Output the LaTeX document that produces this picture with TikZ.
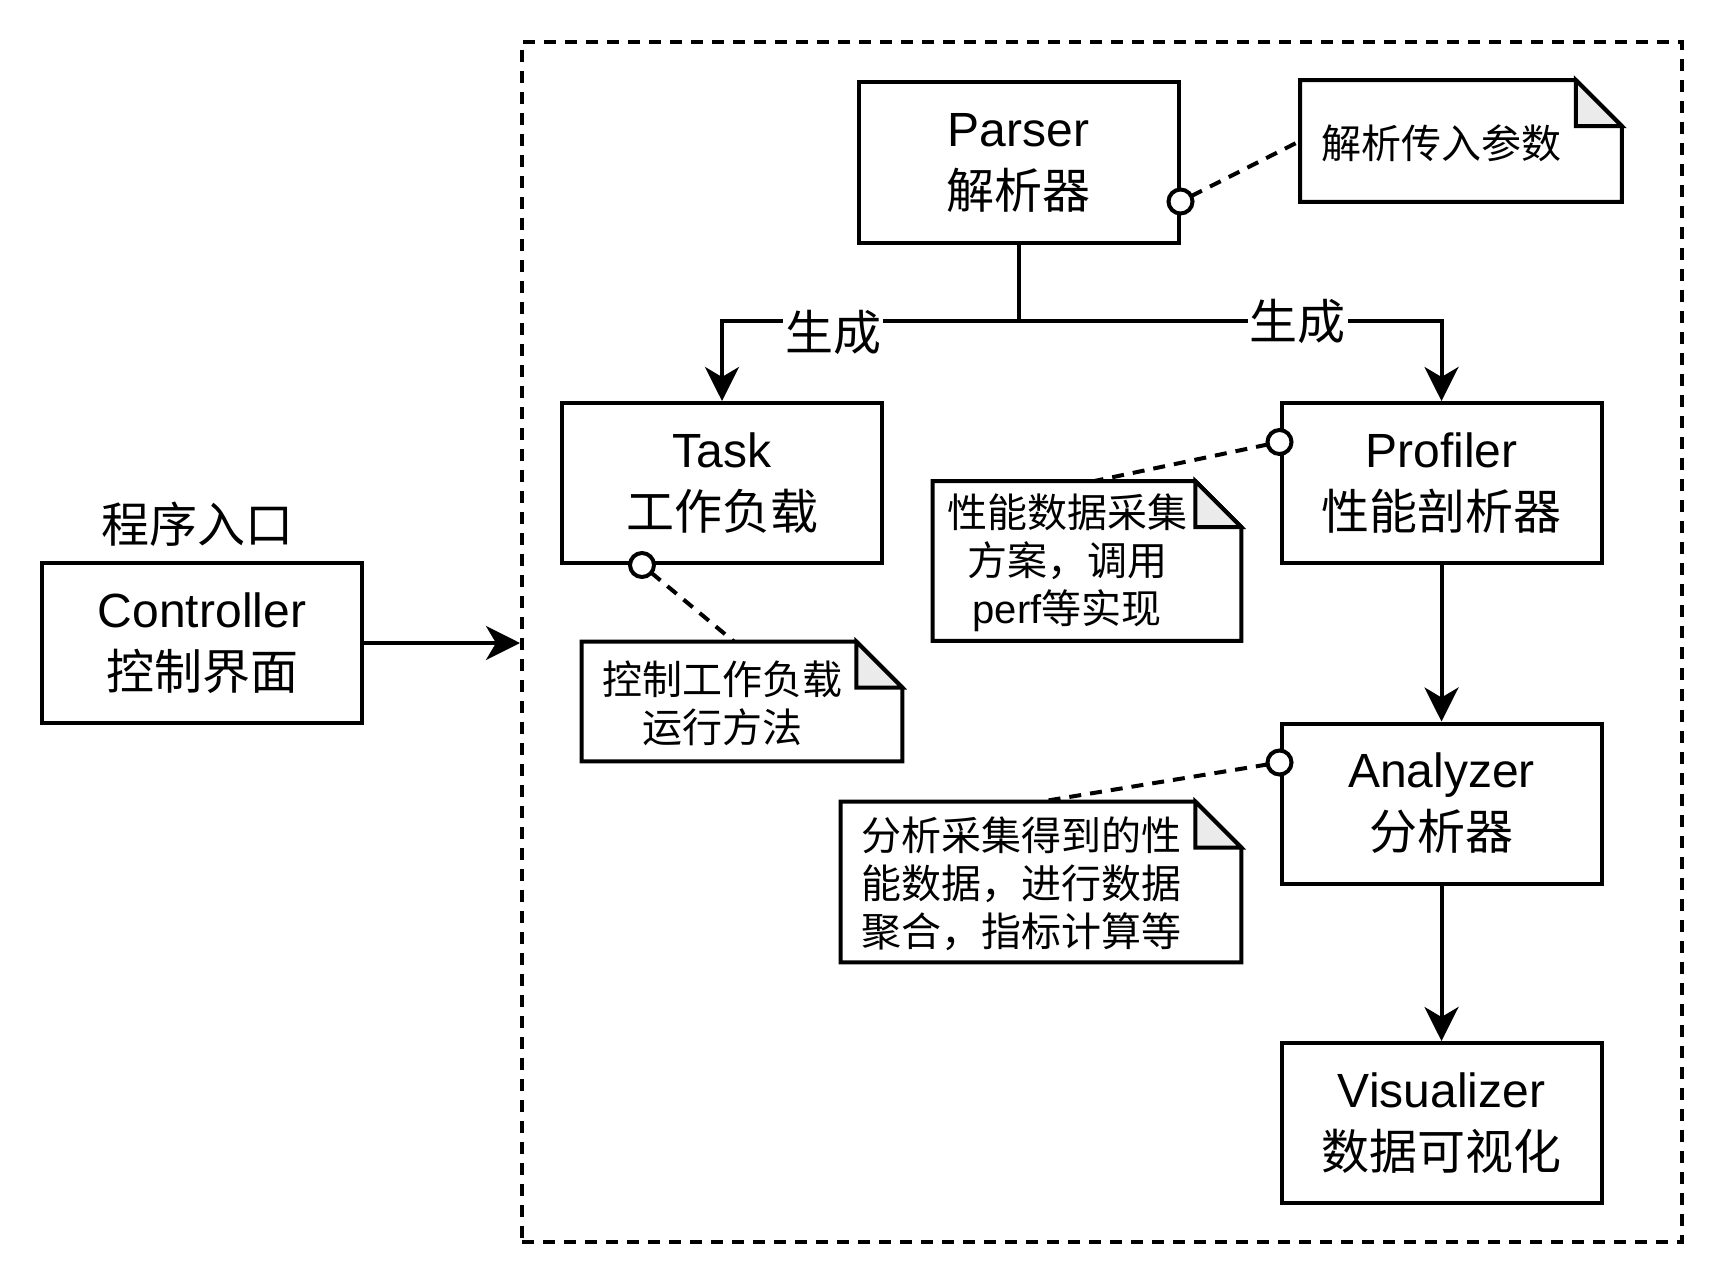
\documentclass[tikz,border=0pt]{standalone}
\usepackage{fontspec}
\setmainfont{Liberation Sans}
\newfontfamily\cjk{Noto Sans CJK SC}
\usepackage{tikz}
\usetikzlibrary{arrows.meta}
\definecolor{foldgray}{RGB}{235, 235, 235}

\tikzset{
  block/.style={draw, line width=2pt, minimum width=160pt, minimum height=80pt,
                inner sep=0pt, align=center, font=\fontsize{24}{31}\selectfont},
  notebox/.style={inner sep=0pt},
  notetext/.style={align=center, font=\fontsize{20}{24}\selectfont},
  flow/.style={line width=2pt, -{Stealth[length=17pt, width=17pt, inset=5pt]}},
  link/.style={line width=2pt, dash pattern=on 6pt off 4.5pt},
  pin/.style={line width=2pt, fill=white},
  gen/.style={fill=white, inner sep=1pt, font=\fontsize{24}{30}\selectfont}
}

\begin{document}
\begin{tikzpicture}[x=0.5pt, y=-0.5pt]
  \useasboundingbox (0, 0) rectangle (1724, 1284);

  \def\fold{23pt}

  \node[draw, link, minimum width=580pt, minimum height=600pt] (frame) at (1102, 642) {};

  \node[block] (ctrl) at (202, 643) {Controller\\{\cjk 控制界面}};
  \node[font=\fontsize{24}{30}\selectfont] (entry) at (197, 524) {\cjk 程序入口};

  \node[block] (parser) at (1018.5, 162.5) {Parser\\{\cjk 解析器}};
  \node[block] (task) at (722, 483) {Task\\{\cjk 工作负载}};
  \node[block] (prof) at (1441.5, 483) {Profiler\\{\cjk 性能剖析器}};
  \node[block] (ana) at (1441.5, 803.5) {Analyzer\\{\cjk 分析器}};
  \node[block] (vis) at (1441.5, 1123) {Visualizer\\{\cjk 数据可视化}};

  % notes
  \node[notebox, minimum width=160.5pt, minimum height=60.5pt] (notepar) at (1461, 141) {};
  \node[notebox, minimum width=160pt, minimum height=59.5pt] (notetask) at (742, 701.5) {};
  \node[notebox, minimum width=154pt, minimum height=79.5pt] (noteprof) at (1087, 561) {};
  \node[notebox, minimum width=200pt, minimum height=80pt] (noteana) at (1041, 882) {};

  \foreach \n in {notepar, notetask, noteprof, noteana} {
    \draw[line width=2pt] (\n.north west) -- ([xshift=-\fold]\n.north east)
      -- ([yshift=-\fold]\n.north east) -- (\n.south east) -- (\n.south west) -- cycle;
    \filldraw[fill=foldgray, line width=2pt] ([xshift=-\fold]\n.north east)
      -- ([xshift=-\fold, yshift=-\fold]\n.north east) -- ([yshift=-\fold]\n.north east) -- cycle;
  }

  \node[notetext] (notepar-t) at ([xshift=-10pt, yshift=-1pt]notepar.center) {\cjk 解析传入参数};
  \node[notetext] (notetask-t) at ([xshift=-10pt, yshift=-1pt]notetask.center) {\cjk 控制工作负载\\\cjk 运行方法};
  \node[notetext] (noteprof-t) at ([xshift=-10pt, yshift=-1pt]noteprof.center) {\cjk 性能数据采集\\\cjk 方案，调用\\perf{\cjk 等实现}};
  \node[notetext] (noteana-t) at ([xshift=-10pt, yshift=-1pt]noteana.center) {\cjk 分析采集得到的性\\\cjk 能数据，进行数据\\\cjk 聚合，指标计算等};

  % main flow
  \coordinate (fork) at (1018.5, 321);
  \draw[line width=2pt] (parser.south) -- (fork);
  \draw[flow] (fork) -- node[gen, pos=0.625, yshift=-5.5pt] {\cjk 生成} (fork -| task.north) -- (task.north);
  \draw[flow] (fork) -- node[gen, pos=0.66] {\cjk 生成} (fork -| prof.north) -- (prof.north);
  \draw[flow] (prof) -- (ana);
  \draw[flow] (ana) -- (vis);
  \draw[flow] (ctrl.east) -- (ctrl.east -| frame.west);

  % note links
  \coordinate (parpin) at ([yshift=-19.5pt]parser.east);
  \coordinate (taskpin) at ([xshift=-40pt]task.south);
  \coordinate (profpin) at ([yshift=20.5pt]prof.west);
  \coordinate (anapin) at ([yshift=20.5pt]ana.west);
  \coordinate (taskend) at ([xshift=-4pt]notetask.north);
  \coordinate (profend) at ([xshift=3.5pt]noteprof.north);

  \foreach \a/\b in {parpin/notepar.west, taskpin/taskend, profpin/profend, anapin/noteana.north} {
    \draw[link, shorten <=6pt] (\a) -- (\b);
    \draw[pin] (\a) circle (6pt);
  }

\end{tikzpicture}
\end{document}
